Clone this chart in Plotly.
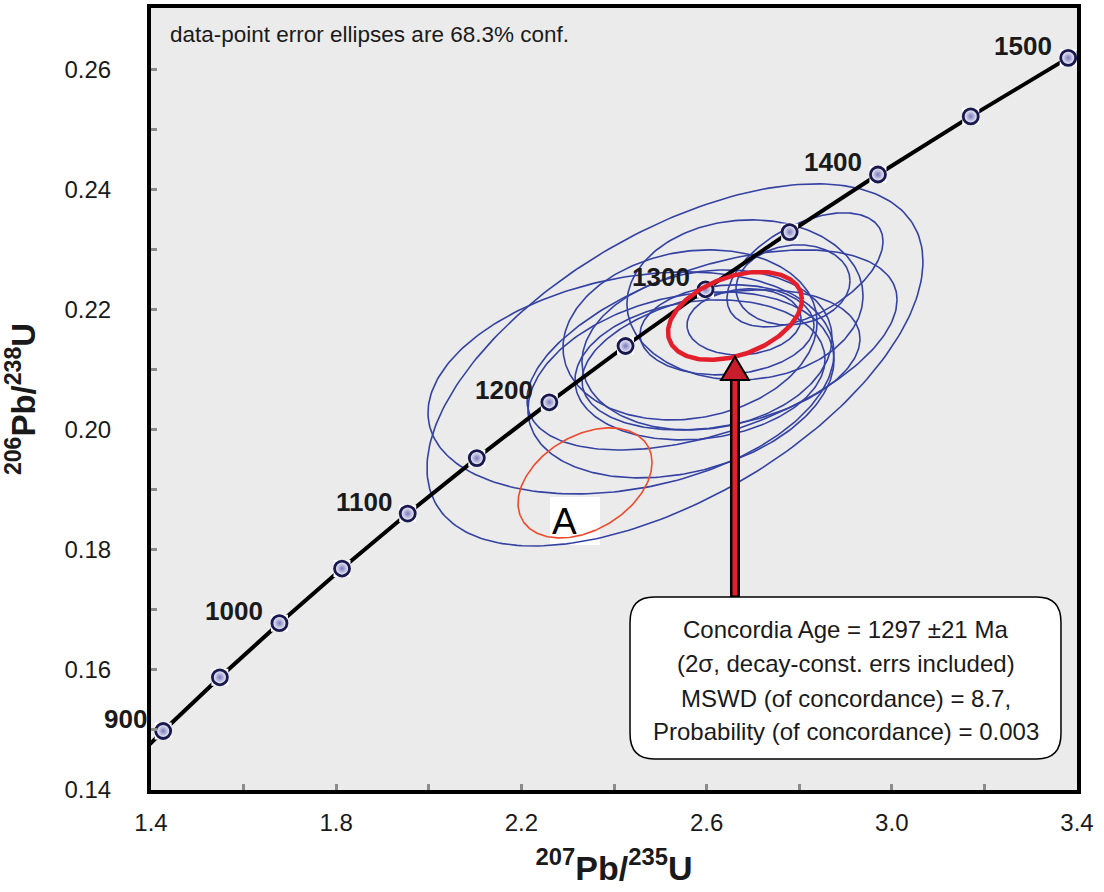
import numpy as np
import plotly.graph_objects as go

# ---------------- data ----------------
# Concordia reference ages (Ma) and their ratios
ages = [900, 950, 1000, 1050, 1100, 1150, 1200, 1250, 1300, 1350, 1400, 1450, 1500]
conc_x = [1.4263, 1.5488, 1.6774, 1.8126, 1.9545, 2.1037, 2.2603, 2.4249, 2.5977, 2.7794, 2.9701, 3.1705, 3.3810]
conc_y = [0.14983, 0.15878, 0.16780, 0.17690, 0.18606, 0.19530, 0.20460, 0.21398, 0.22343, 0.23296, 0.24256, 0.25224, 0.26199]
# curve extension beyond the marked ages (850 and 1550 Ma)
curve_x = [1.3097] + conc_x + [3.6021]
curve_y = [0.14094] + conc_y + [0.27181]
label_ages = [900, 1000, 1100, 1200, 1300, 1400, 1500]

# data-point error ellipses: centre x, centre y, half-width x, half-height y, correlation
ell_cx = [2.5317, 2.4367, 2.6117, 2.5642, 2.6009, 2.5857, 2.6829, 2.6441, 2.6808, 2.7866, 2.8125, 2.5447, 2.6311]
ell_cy = [0.21083, 0.20783, 0.21333, 0.21583, 0.21333, 0.21000, 0.22167, 0.21667, 0.21800, 0.22417, 0.22667, 0.20750, 0.21167]
ell_a = [0.5356, 0.4384, 0.3996, 0.2743, 0.2700, 0.2700, 0.2549, 0.1879, 0.1231, 0.1231, 0.1685, 0.3305, 0.3002]
ell_b = [0.03017, 0.01850, 0.01667, 0.01417, 0.01333, 0.01167, 0.01333, 0.00750, 0.00550, 0.00667, 0.00950, 0.01550, 0.01167]
ell_rho = [0.57, 0.27, 0.50, 0.15, 0.15, 0.15, 0.05, 0.10, 0.10, 0.10, 0.50, 0.27, 0.30]

# excluded analysis "A"
a_cx, a_cy, a_a, a_b, a_rho = 2.3374, 0.19117, 0.1447, 0.00917, 0.37
# concordia age ellipse
c_cx, c_cy, c_a, c_b, c_rho = 2.6613, 0.21900, 0.1447, 0.00733, 0.37

result_lines = [
    "Concordia Age = 1297 \u00b121 Ma",
    "(2\u03c3, decay-const. errs included)",
    "MSWD (of concordance) = 8.7,",
    "Probability (of concordance) = 0.003",
]

FONT = "Liberation Sans, Arial, Helvetica, sans-serif"


def ellipse(cx, cy, a, b, rho, n=240):
    t = np.linspace(0, 2 * np.pi, n)
    x = cx + a * np.cos(t)
    y = cy + b * (rho * np.cos(t) + np.sqrt(1 - rho ** 2) * np.sin(t))
    return x, y


fig = go.Figure()

# blue data ellipses
for cx, cy, a, b, r in zip(ell_cx, ell_cy, ell_a, ell_b, ell_rho):
    ex, ey = ellipse(cx, cy, a, b, r)
    fig.add_trace(go.Scatter(x=ex, y=ey, mode="lines",
                             line=dict(color="#3442a3", width=1.6),
                             hoverinfo="skip", showlegend=False))

# ellipse A
ex, ey = ellipse(a_cx, a_cy, a_a, a_b, a_rho)
fig.add_trace(go.Scatter(x=ex, y=ey, mode="lines",
                         line=dict(color="#ef4a2c", width=1.6),
                         hoverinfo="skip", showlegend=False))

# concordia curve
fig.add_trace(go.Scatter(x=curve_x, y=curve_y, mode="lines",
                         line=dict(color="black", width=4),
                         hoverinfo="skip", showlegend=False))
# white square backgrounds of markers
fig.add_trace(go.Scatter(x=conc_x, y=conc_y, mode="markers",
                         marker=dict(symbol="square", size=17, color="white"),
                         hoverinfo="skip", showlegend=False))
fig.add_trace(go.Scatter(x=conc_x, y=conc_y, mode="markers",
                         marker=dict(size=15, color="white",
                                     gradient=dict(type="radial", color="#7a7abd"),
                                     line=dict(color="#18184e", width=2.8)),
                         text=[f"{t} Ma" for t in ages],
                         hoverinfo="text", showlegend=False))

# concordia age ellipse (thick red)
ex, ey = ellipse(c_cx, c_cy, c_a, c_b, c_rho)
fig.add_trace(go.Scatter(x=ex, y=ey, mode="lines",
                         line=dict(color="#e41e2b", width=4.5),
                         hoverinfo="skip", showlegend=False))

# ---------------- shapes ----------------
shapes = []
# white box behind "A"
shapes.append(dict(type="rect", xref="x", yref="y", x0=2.2618, x1=2.3698, y0=0.18083, y1=0.18883,
                   fillcolor="white", line=dict(width=0), layer="below"))

# arrow from result box to concordia ellipse
arr_x = 2.6613
arr_y0, arr_y1, arr_tip = 0.1720, 0.2083, 0.2122
arr_hw = 0.030
shapes.append(dict(type="line", xref="x", yref="y", x0=arr_x, x1=arr_x, y0=arr_y0, y1=arr_y1 + 0.0005,
                   line=dict(color="black", width=10)))
shapes.append(dict(type="line", xref="x", yref="y", x0=arr_x, x1=arr_x, y0=arr_y0 + 0.0004, y1=arr_y1 + 0.0008,
                   line=dict(color="#e41e2b", width=5)))
shapes.append(dict(type="path", xref="x", yref="y",
                   path=f"M {arr_x - arr_hw} {arr_y1} L {arr_x + arr_hw} {arr_y1} L {arr_x} {arr_tip} Z",
                   fillcolor="#c81e2c", line=dict(color="black", width=2)))

# rounded result box
bx0, bx1, by0, by1 = 2.4346, 3.3654, 0.14517, 0.17217
rx, ry = 0.052, 0.0042
box_path = (f"M {bx0 + rx} {by1} L {bx1 - rx} {by1} Q {bx1} {by1} {bx1} {by1 - ry} "
            f"L {bx1} {by0 + ry} Q {bx1} {by0} {bx1 - rx} {by0} L {bx0 + rx} {by0} "
            f"Q {bx0} {by0} {bx0} {by0 + ry} L {bx0} {by1 - ry} Q {bx0} {by1} {bx0 + rx} {by1} Z")
shapes.append(dict(type="path", xref="x", yref="y", path=box_path,
                   fillcolor="white", line=dict(color="black", width=1.5)))

# ---------------- annotations ----------------
ann = []
for t in label_ages:
    i = ages.index(t)
    ann.append(dict(x=conc_x[i], y=conc_y[i], xref="x", yref="y", text=f"<b>{t}</b>",
                    showarrow=False, xanchor="right", yanchor="middle", xshift=-14, yshift=12,
                    font=dict(family=FONT, size=26, color="#1a1a1a")))

ann.append(dict(x=0.018, y=0.985, xref="paper", yref="paper", xanchor="left", yanchor="top",
                text="data-point error ellipses are 68.3% conf.", showarrow=False,
                font=dict(family=FONT, size=22.5, color="#1a1a1a")))

ann.append(dict(x=2.262, y=0.1847, xref="x", yref="y", xanchor="left", yanchor="middle",
                text="A", showarrow=False, font=dict(family=FONT, size=37, color="black")))

text_x = (bx0 + bx1) / 2
line_ys = [0.16667, 0.16100, 0.15517, 0.14967]
for s, yy in zip(result_lines, line_ys):
    ann.append(dict(x=text_x, y=yy, xref="x", yref="y", text=s, showarrow=False,
                    xanchor="center", yanchor="middle",
                    font=dict(family=FONT, size=24, color="#1a1a1a")))

fig.update_layout(
    width=1104, height=892,
    margin=dict(l=151, r=27, t=8, b=102),
    paper_bgcolor="white", plot_bgcolor="#ebebeb",
    shapes=shapes, annotations=ann,
    font=dict(family=FONT, color="#1a1a1a"),
    showlegend=False,
)

fig.update_xaxes(range=[1.4, 3.4], tickvals=[1.4, 1.8, 2.2, 2.6, 3.0, 3.4], tickformat=".1f",
                 showgrid=False, zeroline=False, automargin=False,
                 showline=True, linecolor="black", linewidth=4, mirror=True,
                 ticks="inside", ticklen=6, tickwidth=3, tickcolor="#8c8c8c",
                 minor=dict(tickvals=[1.6, 2.0, 2.4, 2.8, 3.2], ticks="inside", ticklen=6,
                            tickwidth=3, tickcolor="#8c8c8c"),
                 tickfont=dict(family=FONT, size=24, color="#1a1a1a"),
                 ticklabelstandoff=8,
                 title=dict(text="<b><sup>207</sup>Pb/<sup>235</sup>U</b>",
                            font=dict(family=FONT, size=34, color="#1a1a1a"), standoff=22))

fig.update_yaxes(range=[0.14, 0.2703], tickvals=[0.14, 0.16, 0.18, 0.20, 0.22, 0.24, 0.26], tickformat=".2f",
                 showgrid=False, zeroline=False, automargin=False,
                 showline=True, linecolor="black", linewidth=4, mirror=True,
                 ticks="inside", ticklen=6, tickwidth=3, tickcolor="#8c8c8c",
                 minor=dict(tickvals=[0.15, 0.17, 0.19, 0.21, 0.23, 0.25], ticks="inside", ticklen=6,
                            tickwidth=3, tickcolor="#8c8c8c"),
                 tickfont=dict(family=FONT, size=24, color="#1a1a1a"),
                 ticklabelstandoff=31,
                 title=dict(text="<b><sup>206</sup>Pb/<sup>238</sup>U</b>",
                            font=dict(family=FONT, size=33, color="#1a1a1a"), standoff=22))

fig.write_html("out.html")
